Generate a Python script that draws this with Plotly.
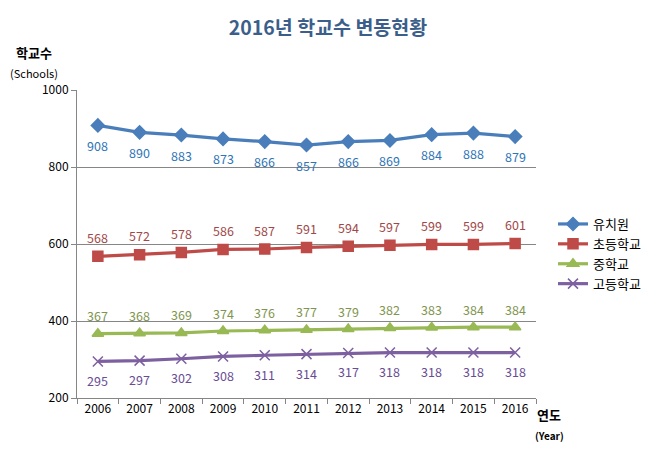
import plotly.graph_objects as go

years = ["2006", "2007", "2008", "2009", "2010", "2011", "2012", "2013", "2014", "2015", "2016"]
kindergarten = [908, 890, 883, 873, 866, 857, 866, 869, 884, 888, 879]
elementary = [568, 572, 578, 586, 587, 591, 594, 597, 599, 599, 601]
middle = [367, 368, 369, 374, 376, 377, 379, 382, 383, 384, 384]
high = [295, 297, 302, 308, 311, 314, 317, 318, 318, 318, 318]
names = ["유치원", "초등학교", "중학교", "고등학교"]

FONT = "Noto Sans CJK KR"

series = [
    (names[0], kindergarten, "#4A7EBB", "#2E75B6", "diamond", 10, -20),
    (names[1], elementary, "#BE4B48", "#A04848", "square", 10, 19),
    (names[2], middle, "#98B954", "#7F9550", "triangle-up", 10, 18),
    (names[3], high, "#7D60A0", "#6A4C93", "x-thin-open", 10, -19),
]

# Page has an 8px body margin; figure sized to fit inside the window without scrollbars
OFF = 8
W, H = 641, 448
l, r, t, b = 69, 113, 82, 58
pw, ph = W - l - r, H - t - b

fig = go.Figure()
anns = []
for name, vals, color, lcolor, sym, size, shift in series:
    fig.add_trace(go.Scatter(
        x=years, y=vals, name=name, mode="lines+markers",
        line=dict(color=color, width=3.2),
        marker=dict(symbol=sym, size=size, color=color,
                    line=dict(color=color, width=1.5)),
        cliponaxis=False,
    ))
    for i, v in enumerate(vals):
        anns.append(dict(text=str(v), x=i, y=v, xref="x", yref="y",
                         showarrow=False, yshift=shift,
                         font=dict(family=FONT, size=12.5, color=lcolor)))


def pix(text, px, py, size, bold=True):
    return dict(text=f"<b>{text}</b>" if bold else text, showarrow=False,
                xref="paper", yref="paper",
                x=(px - OFF - l) / pw, y=(H - b - (py - OFF)) / ph,
                xanchor="center", yanchor="middle",
                font=dict(family=FONT, size=size, color="#000"))


anns += [
    pix("학교수", 34, 52, 13),
    pix("(Schools)", 34, 73, 11, bold=False),
    pix("연도", 549, 414, 13),
    pix("(Year)", 549, 435, 10),
]

fig.update_layout(
    width=W, height=H,
    margin=dict(l=l, r=r, t=t, b=b, autoexpand=False),
    paper_bgcolor="white", plot_bgcolor="white",
    title=dict(text="<b>2016년 학교수 변동현황</b>", x=(328 - OFF) / W, xref="container",
               xanchor="center", y=1 - (28 - OFF) / H, yref="container", yanchor="middle",
               font=dict(family=FONT, size=19.5, color="#3B5F8A")),
    showlegend=True,
    legend=dict(xref="container", yref="container",
                x=(553 - OFF) / W, y=1 - (209 - OFF) / H, xanchor="left", yanchor="top",
                font=dict(family=FONT, size=13, color="#000"),
                tracegroupgap=0, itemwidth=30, bgcolor="rgba(0,0,0,0)"),
    xaxis=dict(type="category", showgrid=False, showline=True,
               linecolor="#868686", linewidth=1, ticks="outside",
               tickson="boundaries", ticklen=5, tickcolor="#868686",
               tickfont=dict(family=FONT, size=12, color="#000"),
               range=[-0.5, 10.5]),
    yaxis=dict(range=[200, 1000], dtick=200, showgrid=True,
               gridcolor="#868686", gridwidth=1, showline=True,
               linecolor="#868686", linewidth=1, ticks="outside",
               ticklen=5, tickcolor="#868686", zeroline=False,
               tickfont=dict(family=FONT, size=12, color="#000")),
    annotations=anns,
)

fig.write_html("out.html")
